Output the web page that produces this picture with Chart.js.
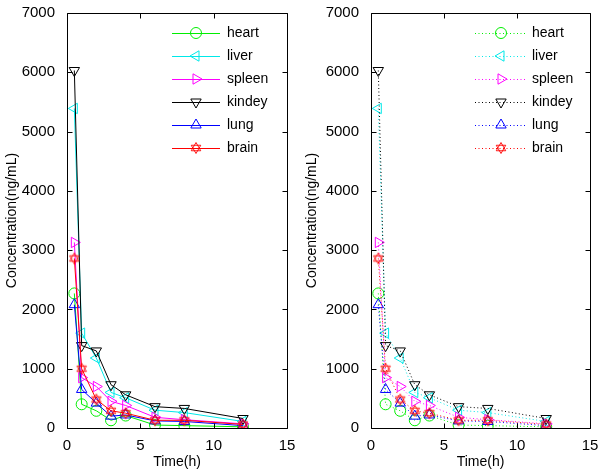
<!DOCTYPE html>
<html>
<head>
<meta charset="utf-8">
<script src="https://cdn.jsdelivr.net/npm/chart.js@4"></script>
<style>
  body { margin: 0; background: #fff; }
  .panel { position: absolute; top: 0; width: 300px; height: 475px; }
</style>
</head>
<body>
<div class="panel" style="left:0"><canvas id="leftChart" width="300" height="475"></canvas></div>
<div class="panel" style="left:300px"><canvas id="rightChart" width="300" height="475"></canvas></div>
<script>
// sampling times (h)
const times = [0.5, 1, 2, 3, 4, 6, 8, 12];
// concentrations (ng/mL)
const heart  = [2270, 400, 290, 130, 210, 50, 40, 20];
const liver  = [5390, 1600, 1180, 600, 510, 300, 260, 110];
const spleen = [3130, 850, 700, 450, 380, 180, 140, 70];
const kindey = [6030, 1390, 1300, 730, 560, 360, 330, 160];
const lung   = [2080, 650, 420, 200, 220, 120, 110, 40];
const brain  = [2860, 1000, 480, 290, 250, 130, 130, 60];

const organNames = ['heart', 'liver', 'spleen', 'kindey', 'lung', 'brain'];
const organData = [heart, liver, spleen, kindey, lung, brain];
const organColors = ['#00ee00', '#00e8e8', '#ff00ff', '#000000', '#0000ff', '#ff0000'];

const yTicks = [0, 1000, 2000, 3000, 4000, 5000, 6000, 7000];
const xTicks = [0, 5, 10, 15];

const FONT = 'Liberation Sans, Arial, sans-serif';

// hexagram marker for brain
function makeHexagram(color){
    let c = document.createElement('canvas');
    c.width = 14; c.height = 14;
    let g = c.getContext('2d');
    g.strokeStyle = color;
    g.lineWidth = 0.9;
    let r = 5.5;
    for (let k = 0; k < 2; k++){
        g.beginPath();
        for (let i = 0; i < 3; i++){
            let a = (k == 0 ? -Math.PI/2 : Math.PI/2) + i*2*Math.PI/3;
            let px = 7 + r*Math.cos(a), py = 7 + r*Math.sin(a);
            if (i == 0) g.moveTo(px, py); else g.lineTo(px, py);
        }
        g.closePath();
        g.stroke();
    }
    return c;
}

const markerStyles = [
    {style: 'circle', rot: 0, r: 5.5},
    {style: 'triangle', rot: -90, r: 6},
    {style: 'triangle', rot: 90, r: 6},
    {style: 'triangle', rot: 180, r: 6},
    {style: 'triangle', rot: 0, r: 6},
    {style: makeHexagram('#ff0000'), rot: 0, r: 6}
];

function buildDatasets(dash){
    let sets = [];
    for (let i = 0; i < organNames.length; i++){
        sets.push({
            label: organNames[i],
            data: times.map((t, j) => ({x: t, y: organData[i][j]})),
            borderColor: organColors[i],
            backgroundColor: 'rgba(0,0,0,0)',
            borderWidth: 1,
            borderDash: dash,
            pointStyle: markerStyles[i].style,
            pointRotation: markerStyles[i].rot,
            pointRadius: markerStyles[i].r,
            pointBorderWidth: 1,
            pointBorderColor: organColors[i],
            pointBackgroundColor: 'rgba(0,0,0,0)',
            tension: 0,
            order: organNames.length - i
        });
    }
    return sets;
}

// matlab style box with inward ticks
const boxPlugin = {
    id: 'matBox',
    afterDatasetsDraw(chart){
        let ctx = chart.ctx, a = chart.chartArea;
        let xs = chart.scales.x, ys = chart.scales.y;
        let L = Math.round(a.left) + 0.5, R = Math.round(a.right) + 0.5;
        let T = Math.round(a.top) + 0.5, B = Math.round(a.bottom) + 0.5;
        ctx.save();
        ctx.strokeStyle = '#000';
        ctx.lineWidth = 1;
        ctx.beginPath();
        ctx.rect(L, T, R - L, B - T);
        for (let v of xTicks){
            let px = Math.round(xs.getPixelForValue(v)) + 0.5;
            ctx.moveTo(px, B); ctx.lineTo(px, B - 5);
            ctx.moveTo(px, T); ctx.lineTo(px, T + 5);
        }
        for (let v of yTicks){
            let py = Math.round(ys.getPixelForValue(v)) + 0.5;
            ctx.moveTo(L, py); ctx.lineTo(L + 5, py);
            ctx.moveTo(R, py); ctx.lineTo(R - 5, py);
        }
        ctx.stroke();
        ctx.restore();
    }
};

// legend with line + marker like matlab
const legendPlugin = {
    id: 'matLegend',
    afterDraw(chart, args, opts){
        let ctx = chart.ctx;
        ctx.save();
        chart.data.datasets.forEach((ds, i) => {
            let y = opts.y0 + i*opts.step;
            ctx.strokeStyle = ds.borderColor;
            ctx.lineWidth = 1;
            ctx.setLineDash(ds.borderDash || []);
            ctx.beginPath();
            ctx.moveTo(opts.x1, y + 0.5);
            ctx.lineTo(opts.x2, y + 0.5);
            ctx.stroke();
            ctx.setLineDash([]);
            ctx.fillStyle = 'rgba(0,0,0,0)';
            Chart.helpers.drawPoint(ctx, {
                pointStyle: ds.pointStyle,
                rotation: ds.pointRotation,
                radius: ds.pointRadius,
                borderWidth: 1
            }, (opts.x1 + opts.x2)/2, y);
            ctx.fillStyle = '#000';
            ctx.font = '14px ' + FONT;
            ctx.textBaseline = 'middle';
            ctx.textAlign = 'left';
            ctx.fillText(ds.label, opts.tx, y);
        });
        ctx.restore();
    }
};

function makeChart(id, dash, padRight, yWidth, legendPos){
    return new Chart(document.getElementById(id).getContext('2d'), {
        type: 'line',
        data: {datasets: buildDatasets(dash)},
        options: {
            responsive: false,
            animation: false,
            devicePixelRatio: 1,
            events: [],
            layout: {padding: {left: 0, right: padRight, top: 10, bottom: 0}},
            plugins: {
                legend: {display: false},
                tooltip: {enabled: false},
                matLegend: legendPos
            },
            scales: {
                x: {
                    type: 'linear',
                    min: 0, max: 15,
                    afterBuildTicks: s => { s.ticks = xTicks.map(v => ({value: v})); },
                    afterFit: s => { s.height = 47; },
                    grid: {display: false},
                    border: {display: false},
                    ticks: {color: '#000', font: {family: FONT, size: 15}, padding: 1, maxRotation: 0,
                        callback: v => String(v)},
                    title: {display: true, text: 'Time(h)', color: '#000', font: {family: FONT, size: 14}, padding: {top: 0, bottom: 4}}
                },
                y: {
                    type: 'linear',
                    min: 0, max: 7000,
                    afterBuildTicks: s => { s.ticks = yTicks.map(v => ({value: v})); },
                    afterFit: s => { s.width = yWidth; },
                    grid: {display: false},
                    border: {display: false},
                    ticks: {color: '#000', font: {family: FONT, size: 15}, padding: 4,
                        callback: v => String(v)},
                    title: {display: true, text: 'Concentration(ng/mL)', color: '#000', font: {family: FONT, size: 14}, padding: {top: 4, bottom: 0}}
                }
            }
        },
        plugins: [boxPlugin, legendPlugin]
    });
}

makeChart('leftChart', [], 13, 67, {x1: 172, x2: 220, tx: 227, y0: 33, step: 23});
makeChart('rightChart', [1, 2.5], 10, 71, {x1: 175, x2: 227, tx: 232, y0: 33, step: 23});
</script>
</body>
</html>
